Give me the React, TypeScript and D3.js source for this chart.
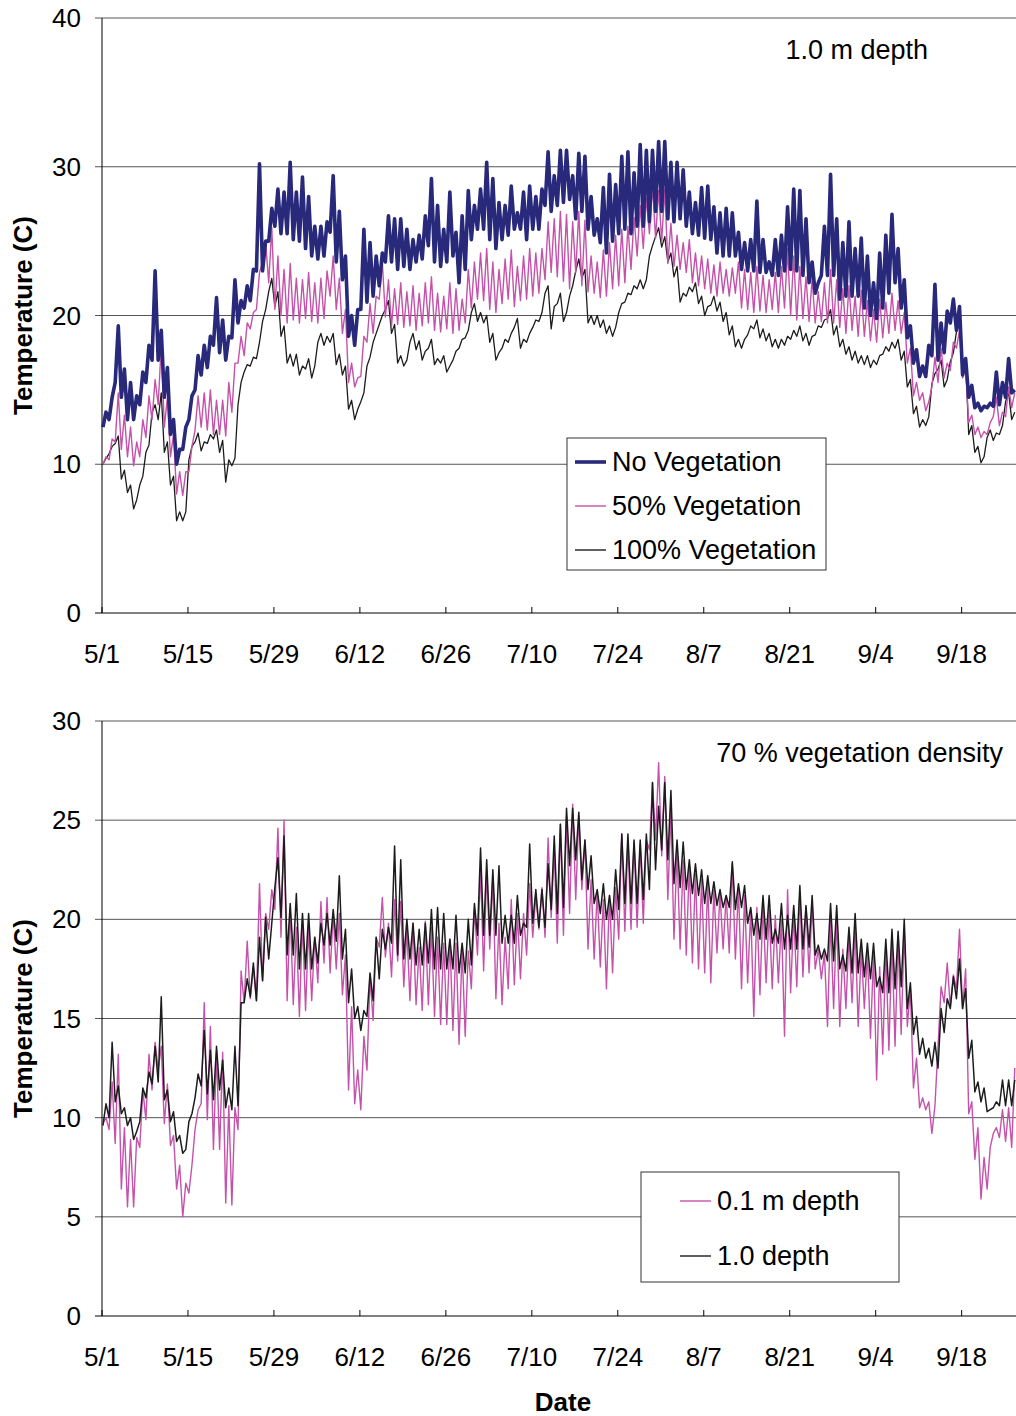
import React from 'react';
import * as d3 from 'd3';

// daily high / low readings (deg C), day 0 = May 1
const noVegHi = [13.5,14.5,19.3,16.4,15.5,14.6,16.2,18,23,19,16.5,13,11,12.5,14.6,17.3,18,18.6,21.2,19.7,18.6,22.4,21,22,23.1,30.2,25,27.2,28.5,28.3,30.3,28.3,29.3,28,26,26,26.3,29.4,27,24,20,20.4,25.8,24.9,24,24.2,26.7,26.5,26.5,25.8,25.1,25.4,26.7,29.2,27.4,25.8,28.3,25.6,26.7,28.4,27.4,28.5,30.3,29.2,27.6,27.4,28.7,26.9,28.3,28.7,28,28.5,31,29.4,31.1,31.1,29.4,30.9,30.7,28,26.5,28.6,29.5,28.8,30.7,31,29.6,31.5,31.1,31.1,31.7,31.7,30.3,30.3,29.8,28.3,27.6,28.6,28.7,27.3,26.9,27.2,26.9,25.6,24.9,25.1,27.7,25.1,23.6,25.1,25.4,27.3,28.5,28.4,26.5,23.6,22.2,26,29.5,26.5,24.9,26.3,24.5,25.2,24,22.2,24.2,25.4,26.8,24.5,22.4,19.3,17.7,16.6,18,22.1,19.5,20.3,21.1,20.6,17.1,15.3,14.1,13.9,14.1,16.2,15.5,17.1,15];
const noVegLo = [12.5,13,15.5,14.5,13,13,14,15.5,17,17,14.5,12,10,11,13,15,16,16.5,18,17.5,17,18.5,19.5,20.5,21,23,23,25,26,25.5,25.5,25.1,25,24.5,24,23.8,24,25.6,23.6,22.4,18.6,18,20.4,20.9,21.3,22,23.6,23.6,23.1,23.3,23.1,23.6,23.8,24.7,23.6,23.3,23.6,24,22.2,23.1,25.1,25.8,25.8,25.1,24.5,25.1,25.4,25.8,25.8,25.1,25.8,25.8,27.4,27,27.4,27.6,27.8,26.5,27,25.8,25.4,24.9,24.2,25,25.5,25.8,25.5,26,26,26.3,27,27,26.5,26.3,26.5,26,25.5,25.4,25.2,25.1,24.2,24,24,24,23.1,23,23,22.9,22.9,22.7,22.7,23,23.1,23,22.7,22.2,21.5,22.7,22.7,22.7,21.1,21.3,21.3,21.3,20.5,20,19.8,20.5,21.5,22.2,20.5,18.5,16.8,15.9,15.9,17.3,17,17.5,19.5,19,16,14.5,13.8,13.6,13.8,13.9,14,14.5,14.8];
const veg50Hi = [10.5,11.7,14.8,13.3,12.5,11.5,13,14.6,15.7,18,14.5,12,9.5,9.5,11.2,14.6,14.8,15,14.3,14.3,15.5,16.8,18.6,19.5,20.2,22.9,24.9,25.9,24,23.1,23.5,22.5,22.4,22.9,22.2,22.5,23,24,22.5,20.4,16.8,15.8,18.6,20.8,21.3,23.6,22.4,21.8,22.2,21.6,22,21.5,22.2,22.6,21.5,21.3,22.2,21.8,21.1,23.1,23.6,24.2,24.5,23.6,23.1,23.8,24.4,23.3,24,24.5,24.2,24.5,26.3,26.5,27,26.8,26.3,27,26.4,24,23.6,24.4,24.9,25.4,25.8,26,26.6,27.4,27.9,28.7,28.4,28.5,26.2,25.4,24.9,25.1,24.2,24,23.8,23.4,23.6,23.1,23.2,23.6,23.1,22.9,23.3,22.7,22.4,22.9,23.3,24.5,24,23.3,22.6,22.5,21.6,22.2,23.1,22.4,21.8,22,21.3,21.7,21,20.4,21.1,20.9,21.5,21,20.2,17.8,15.5,14.8,14.2,17.2,17.8,16.8,18.2,19,16.4,13.3,12.5,12.2,12.8,14.5,13.5,15.2,14.8];
const veg50Lo = [10,10.3,11.5,11,10.5,9.9,10.5,11.8,13,14,12.5,10.5,8,7.9,9.5,12.3,12.5,12.3,12,12,11.9,13.5,16.8,17.3,19.1,20.4,23.6,22.2,20.4,20,19.5,19.7,19.5,19.8,19.6,19.5,19.8,21.3,20.4,18.8,15.5,15.2,15.9,18.2,18.8,21.1,19.9,19.3,19.4,19.2,19.3,19,19.3,19.5,19,18.9,19.1,18.8,19,19.5,20.5,21.1,21,20.4,20.2,20.8,21.1,20.6,21,21.1,21.3,21.5,22.4,22.9,22.6,22.3,21.8,22.9,22,21.6,21.5,21.2,21.3,21.8,22,22.2,23.1,24,24.5,25.5,25.2,25,23.5,23.3,23.1,22.9,22.2,22,21.8,21.5,21.3,21.5,21.3,21.5,20.5,20.4,20.2,20.3,20.2,20.4,20.2,20.5,20,19.7,19.8,19.6,19.5,19.6,19.5,19.5,19.2,18.8,19,18.6,18.6,18.3,18.2,18.5,18.8,19,18.8,16.8,14.6,14.3,13.6,15.2,15.5,15.8,16.3,17.8,15.8,12.8,12,11.8,12,13.2,12.6,13.2,13.8];
const veg100Hi = [10.4,11.2,11.9,9.6,8.6,7.6,9.2,11.3,14,14.8,11.5,9.2,6.8,6.8,11.2,12.1,11.5,12,12.3,11.6,10.3,10.4,15.5,16.7,17.2,18.2,20.4,22.5,21.6,19.3,17.4,17.4,16.6,17.1,16.6,18.8,18.6,18.8,17.4,16.6,14.3,13.7,14.8,17.2,18.8,20,21,19.4,17.3,17,18.8,18.3,17.6,18.4,17.1,17.3,16.6,17.6,18.4,19,20.8,20.2,20,18.8,17.5,18.4,18.8,19.8,18.4,18.8,19.7,20.2,22,20.6,21.5,20.2,22,23.8,23.1,20,20,19.7,19.3,19.2,20.8,21.5,22,22.4,22.4,24.7,25.9,25.3,24.2,23.3,21.5,21.9,22.2,21.3,20.6,21.3,20.9,20.2,19.3,18.4,18.4,19.3,19.7,19.1,18.8,18.4,18.4,18.6,19,19.3,18.8,18.6,19.3,19.7,20.4,19.3,18.4,17.9,17.6,17.3,17.3,17,17.3,17.9,18.2,18.4,17.6,15.7,13.9,13,13.2,16.1,17,15.7,17.5,19.5,17,12.6,11.2,10.5,12.3,12.1,12.6,14.8,13.5];
const veg100Lo = [10,10.7,11.4,9,8.1,7,8.6,10.8,13.5,13,10.8,8.6,6.2,6.2,10.3,11.5,10.9,11.4,11.7,10.8,8.8,9.9,14,16.2,16.6,17.1,19.6,21.6,20.6,18.6,16.8,16.6,16,16.4,15.8,18.2,18,18.2,16.7,16,13.7,13,14.2,16.6,18.2,19.4,20.4,18.8,16.8,16.6,18.2,17.7,17,17.8,16.7,16.8,16.2,17,17.8,18.5,20.2,19.6,19.5,18.2,17,17.8,18.2,19.2,17.8,18.2,19.2,19.6,21.5,19.1,20.8,19.6,21.3,23,22.5,19.5,19.4,19.2,18.8,18.6,20.2,20.9,21.4,21.8,21.8,24,25.3,24.6,23.6,22.6,20.9,21.3,21.6,20.8,20,20.7,20.3,19.6,18.7,17.9,17.8,18.7,19.1,18.5,18.3,17.9,17.8,18,18.4,18.6,18.3,18,18.7,19.2,19.8,18.7,17.9,17.4,17,16.8,16.7,16.5,16.7,17.4,17.6,17.8,17,15.2,13.4,12.5,12.6,15.4,16.4,15.2,16.9,18.9,16.4,12,10.8,10.1,11.8,11.6,12,14.2,13];

const d01Hi = [10,11.8,13.2,9.5,8.9,9,11.4,13.2,13.8,13.6,11.7,9.1,7.6,6.7,7.6,10.4,15.8,14.6,13.3,13.3,10.6,10.5,17.4,18.9,17.6,21.8,20.3,21.5,24.6,25,20.6,19.6,20,19.6,19.1,20.9,21.1,20.3,20.3,18.2,15.6,12.4,14.1,17.1,19.1,21.1,19.8,21,20.9,19.5,19.8,18.6,19.9,19.6,19.1,18.8,19,18.8,18.5,18.4,20.5,22.6,22.4,22.1,19.8,19.1,21,20.3,20.3,21.8,21.2,21.6,24.1,23.5,24.8,25.2,25.8,25.2,24,22,21.4,21,21.2,21.6,24.3,24,23.9,23.8,24,26.9,27.9,27.2,25.5,23.5,23,22.8,22.3,22,21.8,21.5,21.3,21.2,22.8,21.6,21.2,20.5,20.6,20.8,20.5,20.2,20,21.5,20.3,21.3,20.6,20.8,18.5,18.3,20,20.2,18.5,19.2,19.6,18.5,18.3,18.2,17.6,18.5,19,19,19.5,16.5,13,11,10.8,10.6,16.6,17.8,17.2,19.5,17.5,10.8,9.5,8,8.5,9.5,10.4,10.5,12.5];
const d01Lo = [9.7,9.4,8.7,6.4,5.5,5.5,8.5,9.9,11.4,12.4,9.7,8.6,6.4,5,6.2,9.4,10.7,9.9,8.4,8.4,5.7,5.6,9.4,15.8,16,15.9,16.9,19.5,20.5,19.1,15.9,15.7,15.1,15.4,15.9,16.8,17.8,17.3,17.5,16.2,11.4,10.7,10.4,12.4,14.9,18.6,18.1,17.1,17.9,16.6,15.9,15.7,15.4,15.7,15.1,14.7,14.7,14.4,13.7,14.1,16.5,18.2,17.4,18.5,16,15.7,16.5,16.7,17,18.2,19.1,19.5,19.1,20.1,18.8,19.2,20.3,21,21.5,18.5,18,17.6,16.5,17.3,19,19.4,19.5,19.6,19.8,23.5,24,23.2,21,19,18.5,18.2,17.8,17.5,17.3,16.8,18.3,18.5,18.3,18,16.5,16.8,15.1,16.2,16.8,16.5,16.8,14.1,16.3,16.6,17.1,17.3,17.5,17,14.6,15.5,14.6,15.5,15.8,14.6,15.5,14,11.9,13.2,13.4,13.6,14.2,14.6,11.5,10.5,10.4,9.2,13.6,15.8,15.6,16.5,15.5,10.2,7.9,5.9,6.4,9.2,9,8.8,8.5];
const d10Hi = [10.7,13.8,11.6,10.5,10,9.3,11.5,12.3,13.6,16.1,11.4,10.3,9.1,8.4,10.2,12.2,14.4,13.4,13.6,12.9,11.5,13.6,15.8,17,17.8,19.1,20.1,19.8,23.1,24.2,20.8,21.3,20.3,20.3,19.1,19.8,20.3,20.5,22.2,19.5,17.5,15.6,15.4,17.3,19.1,19.5,19.6,23.7,23,20,19.8,19.5,19.8,20.5,20.6,20.3,19,20.2,18.8,20,20.8,23.6,23,22.5,22.7,20.2,20.2,21.2,19.8,23.8,21.5,21.5,22.8,24.2,24.8,25.6,25.6,25.4,24,23.2,21.5,21.8,21.2,22.5,24.3,24.3,24,24,24.3,26.9,25.7,26.9,26.5,24,23.9,23,22.8,22.5,22.2,21.9,21.5,21.2,22.9,21.8,21.7,20.6,20.3,21.2,21.2,19.5,20.8,20.2,20.7,21.7,20.7,21.2,18.7,18.5,20.8,20.7,18.2,19.6,20.3,19,18.8,18.8,17.1,19,19.5,19.4,20,16.8,15.1,14,13.5,13.8,15.5,16,17.1,18,16.5,13.9,11.8,11.5,10.4,10.8,11.9,11.9,11.9];
const d10Lo = [9.6,10,10.8,10.2,9.6,8.9,9.8,11,11.7,11.8,10.9,9.8,8.8,8.2,9.8,11,11.6,11.2,10.9,11.4,10.5,10.4,10.6,15.8,16.1,15.9,16.9,18,21.6,20.1,18.2,18.2,17.5,17.5,17.5,17.8,18.7,18.7,18.9,18,15.8,15,14.4,15.1,15.9,17,18.5,18.8,18.2,18,18,17.7,17.7,17.8,17.5,17.5,17.5,17.5,17.3,17.3,17.7,19.2,19.2,19.2,19.2,18.8,18.8,18.8,19.2,19.6,19.8,19.6,19.6,20.5,20.3,20.6,22.7,23,22,21.5,20.8,20.3,20,20,20.5,20.8,20.8,20.8,21,21.5,22.5,23.5,23,21.8,21.6,21.5,21.3,21.2,20.8,20.8,20.7,20.6,20.6,20.5,20.6,19.8,19.2,19,19,18.8,18.8,18.5,18.5,18.5,18.5,18.6,18.2,18,17.9,17.9,17.5,17.4,17.3,17.3,17.1,17,16.6,16.3,16.3,16.5,16.6,15.5,14.2,13.2,13,12.6,12.5,14.3,15.5,16,15.5,13,11.3,10.8,10.3,10.5,10.6,10.6,10.6];

const dateTicks = ['5/1','5/15','5/29','6/12','6/26','7/10','7/24','8/7','8/21','9/4','9/18'];
const topYTicks = [0, 10, 20, 30, 40];
const botYTicks = [0, 5, 10, 15, 20, 25, 30];

const navy = '#28297a';
const pink = '#c452aa';
const dark = '#1c1c1c';
const font = 'Liberation Sans, Arial, sans-serif';

const start = new Date(2000, 4, 1);
const dayMs = 86400000;
const x = d3.scaleTime()
  .domain([start, new Date(start.getTime() + 148.85 * dayMs)])
  .range([102, 1016]);

function toPoints(hi: number[], lo: number[]) {
  const pts: [Date, number][] = [];
  hi.forEach((h, i) => {
    pts.push([new Date(start.getTime() + (i + 0.15) * dayMs), lo[i]]);
    pts.push([new Date(start.getTime() + (i + 0.65) * dayMs), h]);
  });
  return pts;
}

function Panel({ top, bottom, ticks, series, label, labelX }: {
  top: number; bottom: number; ticks: number[];
  series: { pts: [Date, number][]; color: string; width: number }[];
  label: string; labelX: number;
}) {
  const y = d3.scaleLinear().domain([0, ticks[ticks.length - 1]]).range([bottom, top]);
  const line = d3.line<[Date, number]>().x(d => x(d[0])).y(d => y(d[1]));
  const tickDates = dateTicks.map((_, i) => new Date(start.getTime() + i * 14 * dayMs));
  return (
    <g>
      {ticks.map(t => (
        <g key={t}>
          <line x1={95} x2={1016} y1={y(t)} y2={y(t)} stroke={t === 0 ? '#000' : '#555'} strokeWidth={1} />
          <text x={81} y={y(t)} dy="0.35em" textAnchor="end" fontSize={26} fontFamily={font}>{t}</text>
        </g>
      ))}
      <line x1={102} x2={102} y1={top} y2={bottom} stroke="#000" />
      {tickDates.map((d, i) => (
        <g key={i}>
          <line x1={x(d)} x2={x(d)} y1={bottom} y2={bottom - 6} stroke="#000" />
          <text x={x(d)} y={bottom + 50} textAnchor="middle" fontSize={26} fontFamily={font}>{dateTicks[i]}</text>
        </g>
      ))}
      {series.map((s, i) => (
        <path key={i} d={line(s.pts) || ''} fill="none" stroke={s.color} strokeWidth={s.width} strokeLinejoin="round" />
      ))}
      <text x={labelX} y={top + 41} textAnchor="end" fontSize={27} fontFamily={font}>{label}</text>
      <text transform={`translate(32,${(top + bottom) / 2}) rotate(-90)`} textAnchor="middle"
        fontSize={26} fontWeight="bold" fontFamily={font}>Temperature (C)</text>
    </g>
  );
}

function Legend({ x0, y0, w, h, off, items }: {
  x0: number; y0: number; w: number; h: number; off: number;
  items: { name: string; color: string; width: number; y: number }[];
}) {
  return (
    <g>
      <rect x={x0} y={y0} width={w} height={h} fill="#fff" stroke="#333" strokeWidth={1} />
      {items.map(it => (
        <g key={it.name}>
          <line x1={x0 + off} x2={x0 + off + 31} y1={it.y} y2={it.y} stroke={it.color} strokeWidth={it.width} />
          <text x={x0 + off + 37} y={it.y} dy="0.35em" fontSize={27} fontFamily={font}>{it.name}</text>
        </g>
      ))}
    </g>
  );
}

export default function App() {
  return (
    <svg width={1016} height={1416} style={{ position: 'absolute', left: 0, top: 0, background: '#fff' }}>
      <Panel top={18} bottom={613} ticks={topYTicks} label="1.0 m depth" labelX={928}
        series={[
          { pts: toPoints(veg100Hi, veg100Lo), color: dark, width: 1.3 },
          { pts: toPoints(veg50Hi, veg50Lo), color: pink, width: 1.4 },
          { pts: toPoints(noVegHi, noVegLo), color: navy, width: 3.6 },
        ]} />
      <Legend x0={567} y0={438} w={259} h={132} off={8} items={[
        { name: 'No Vegetation', color: navy, width: 3.6, y: 462 },
        { name: '50% Vegetation', color: pink, width: 1.4, y: 506 },
        { name: '100% Vegetation', color: dark, width: 1.4, y: 550 },
      ]} />
      <Panel top={721} bottom={1316} ticks={botYTicks} label="70 % vegetation density" labelX={1003}
        series={[
          { pts: toPoints(d01Hi, d01Lo), color: pink, width: 1.4 },
          { pts: toPoints(d10Hi, d10Lo), color: dark, width: 1.5 },
        ]} />
      <Legend x0={641} y0={1172} w={258} h={110} off={39} items={[
        { name: '0.1 m depth', color: pink, width: 1.4, y: 1201 },
        { name: '1.0 depth', color: dark, width: 1.4, y: 1256 },
      ]} />
      <text x={563} y={1411} textAnchor="middle" fontSize={26} fontWeight="bold" fontFamily={font}>Date</text>
    </svg>
  );
}
